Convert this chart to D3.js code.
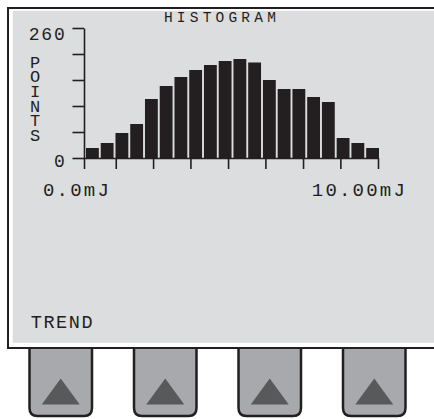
<!DOCTYPE html>
<html>
<head>
<meta charset="utf-8">
<script src="https://cdn.jsdelivr.net/npm/d3@7"></script>
<style>
  body { margin: 0; background: #fff; }
  svg { display: block; }
  .lcd text { font-family: "Liberation Mono", "Courier New", monospace; fill: #231f20; }
</style>
</head>
<body>
<div id="chart"></div>
<script>
// histogram counts, 20 energy bins between 0 and 10 mJ
const bins = d3.range(20);
const counts = [20, 30, 50, 68, 118, 144, 162, 176, 186, 194, 198, 191, 156, 138, 138, 122, 112, 40, 30, 20];
const yTicks = [0, 52, 104, 156, 208, 260];
const xTicks = [0, 1.08, 2.35, 3.62, 4.9, 6.17, 7.45, 8.72, 10];
const xLabels = ["0.0mJ", "10.00mJ"];
const softKeys = ["", "", "", ""];

const width = 434, height = 419;
const ink = "#231f20";

const svg = d3.select("#chart").append("svg")
    .attr("width", width)
    .attr("height", height);

// soft keys under the screen
const keyX = d3.scaleBand().domain(d3.range(softKeys.length)).range([29.5, 405.5]).paddingInner(0.402);
const keys = svg.append("g").selectAll("g")
    .data(softKeys)
    .enter().append("g")
    .attr("transform", function (d, i) { return "translate(" + keyX(i) + ",0)"; });

keys.append("path")
    .attr("d", function () {
        const w = keyX.bandwidth(), top = 344, bot = 416, r = 8;
        return "M0," + top + "V" + (bot - r) + "Q0," + bot + " " + r + "," + bot +
            "H" + (w - r) + "Q" + w + "," + bot + " " + w + "," + (bot - r) + "V" + top;
    })
    .attr("fill", "#a7a9ac")
    .attr("stroke", ink)
    .attr("stroke-width", 2.5);

keys.append("path")
    .attr("d", function () {
        const c = keyX.bandwidth() / 2;
        return "M" + (c - 19) + ",404.5L" + c + ",378.5L" + (c + 19) + ",404.5Z";
    })
    .attr("fill", "#58595b");

// screen
svg.append("rect")
    .attr("x", 8).attr("y", 8)
    .attr("width", 460).attr("height", 340)
    .attr("fill", "#fff")
    .attr("stroke", ink)
    .attr("stroke-width", 2);

svg.append("rect")
    .attr("x", 12.7).attr("y", 10.8)
    .attr("width", 440).attr("height", 332)
    .attr("fill", "#dcdddf");

const lcd = svg.append("g").attr("class", "lcd");

const x = d3.scaleBand().domain(bins).range([86, 379]).paddingInner(0.13);
const xE = d3.scaleLinear().domain([0, 10]).range([84, 378]);
const y = d3.scaleLinear().domain([0, 260]).range([158, 28]);

lcd.append("g")
    .selectAll("rect")
    .data(counts)
    .enter().append("rect")
    .attr("x", function (d, i) { return x(bins[i]); })
    .attr("y", function (d) { return y(d); })
    .attr("width", x.bandwidth())
    .attr("height", function (d) { return y(0) - y(d); })
    .attr("fill", ink);

const yAxis = lcd.append("g")
    .attr("transform", "translate(" + xE(0) + ",0)")
    .call(d3.axisLeft(y).tickValues(yTicks).tickSize(11.5).tickSizeOuter(0).tickPadding(6)
        .tickFormat(function (d) { return d === 0 || d === 260 ? d : ""; }));

const xAxis = lcd.append("g")
    .attr("transform", "translate(0," + y(0) + ")")
    .call(d3.axisBottom(xE).tickValues(xTicks).tickSize(11).tickSizeOuter(0).tickFormat(""));

lcd.selectAll(".domain, .tick line")
    .attr("stroke", ink)
    .attr("stroke-width", 1.6);

yAxis.selectAll(".tick text")
    .attr("font-family", null)
    .attr("font-size", 18)
    .attr("letter-spacing", 1.8)
    .attr("fill", ink)
    .attr("dy", function (d) { return d === 260 ? "0.62em" : "0.45em"; });

lcd.append("text")
    .attr("x", 222)
    .attr("y", 22.3)
    .attr("text-anchor", "middle")
    .attr("font-size", 14.5)
    .attr("letter-spacing", 4.2)
    .text("HISTOGRAM");

lcd.append("text")
    .attr("font-size", 17)
    .attr("text-anchor", "middle")
    .selectAll("tspan")
    .data("POINTS".split(""))
    .enter().append("tspan")
    .attr("x", 35)
    .attr("y", function (d, i) { return 67.5 + i * 14.7; })
    .text(function (d) { return d; });

lcd.append("text")
    .attr("x", xE(0) - 41)
    .attr("y", 196)
    .attr("font-size", 19)
    .attr("letter-spacing", 2.2)
    .text(xLabels[0]);

lcd.append("text")
    .attr("x", xE(10) + 29)
    .attr("y", 196)
    .attr("text-anchor", "end")
    .attr("font-size", 19)
    .attr("letter-spacing", 2.2)
    .text(xLabels[1]);

lcd.append("text")
    .attr("x", 30.7)
    .attr("y", 327.7)
    .attr("font-size", 18.5)
    .attr("letter-spacing", 1.6)
    .text("TREND");
</script>
</body>
</html>
